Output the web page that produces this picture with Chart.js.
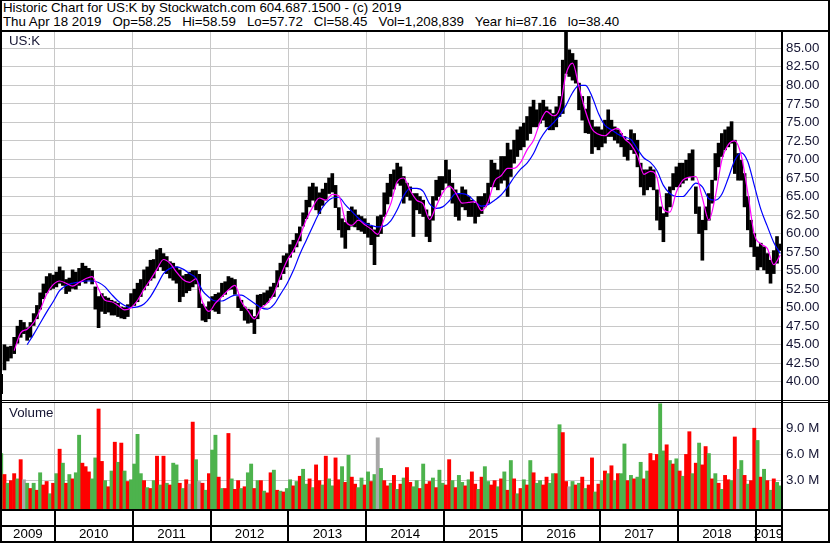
<!DOCTYPE html>
<html><head><meta charset="utf-8">
<script src="https://cdn.jsdelivr.net/npm/chart.js@4.4.1/dist/chart.umd.min.js"></script>
<style>
html,body{margin:0;padding:0;background:#fff;}
#wrap{position:relative;width:830px;height:543px;overflow:hidden;background:#fff;font-family:"Liberation Sans",Arial,sans-serif;color:#000;}
.hdr{position:absolute;left:3px;white-space:pre;font-size:13.3px;line-height:14px;color:#000;}
.lbl{position:absolute;white-space:pre;font-size:13.3px;line-height:14px;color:#141432;}
.ln{position:absolute;background:#000;}
canvas{position:absolute;}
</style></head><body>
<div id="wrap">
<canvas id="price" width="830" height="370" style="left:0;top:31px;width:830px;height:370px"></canvas>
<canvas id="vol" width="830" height="142" style="left:0;top:401px;width:830px;height:142px"></canvas>
<div class="hdr" style="top:1px">Historic Chart for US:K by Stockwatch.com 604.687.1500 - (c) 2019</div>
<div class="hdr" style="top:15px">Thu Apr 18 2019   Op=58.25   Hi=58.59   Lo=57.72   Cl=58.45   Vol=1,208,839   Year hi=87.16   lo=38.40</div>
<div class="lbl" style="left:9px;top:34px">US:K</div>
<div class="lbl" style="left:9px;top:406px">Volume</div>
<div class="ln" style="left:0;top:30px;width:830px;height:2px"></div>
<div class="ln" style="left:0;top:400px;width:830px;height:1px"></div>
<div class="ln" style="left:0;top:402px;width:830px;height:1px"></div>
<div class="ln" style="left:0;top:509px;width:830px;height:2px"></div>
<div class="ln" style="left:0;top:525px;width:782px;height:2px"></div>
<div class="ln" style="left:781px;top:31px;width:2px;height:512px"></div>
<div class="ln" style="left:0;top:0;width:830px;height:1px"></div>
<div class="ln" style="left:0;top:0;width:2px;height:543px"></div>
<div class="ln" style="left:828px;top:0;width:2px;height:543px"></div>
<div class="ln" style="left:0;top:541px;width:830px;height:2px"></div>
</div>
<script>
// Half-month periods, starting with the second half of April 2009 (k = 0)
const periodX = k => 2009 + (k + 7) / 24 + 1 / 48;

const priceHigh = [
 41.0,45.0,44.7,44.8,46.0,47.5,48.3,48.0,47.3,48.0,
 49.2,50.3,52.0,53.2,54.2,54.6,54.4,54.8,55.5,55.0,
 53.8,54.0,55.1,54.8,55.3,56.0,55.6,55.3,55.0,52.8,
 51.5,51.9,51.5,51.3,51.0,50.8,50.6,50.1,50.0,50.4,
 51.9,52.5,53.3,53.8,55.1,55.5,56.4,56.5,57.8,58.0,
 57.3,56.9,56.2,56.0,55.5,55.1,54.3,54.5,54.8,55.0,
 55.0,54.5,50.5,50.1,50.8,51.5,51.8,52.0,53.3,53.5,
 54.2,54.0,53.8,51.5,51.0,50.1,49.8,49.7,48.8,51.7,
 51.8,52.0,52.3,52.8,53.3,55.0,56.0,57.0,57.3,58.5,
 59.1,60.0,60.9,62.8,64.5,66.3,66.8,66.3,65.5,66.0,
 66.8,67.5,68.1,66.5,63.5,62.0,61.5,63.0,63.6,63.2,
 62.5,62.3,62.0,61.4,61.0,60.5,62.3,62.5,65.5,66.8,
 68.0,68.6,69.5,69.0,67.7,66.8,66.3,65.4,65.4,65.0,
 64.5,63.2,62.3,65.0,67.2,67.7,67.7,69.9,68.6,66.8,
 65.9,65.4,66.3,65.9,65.0,64.5,64.1,65.0,65.0,65.4,
 66.8,69.9,69.5,68.6,70.4,70.4,72.2,71.3,72.6,74.0,
 74.4,74.9,75.8,77.1,78.0,76.7,77.6,78.0,77.1,76.7,
 76.2,77.1,78.5,83.4,87.16,84.8,84.3,83.4,80.3,78.5,
 76.8,78.5,75.3,74.4,74.4,74.0,75.3,76.7,75.3,74.4,
 74.0,73.5,73.1,72.6,74.0,73.5,72.6,69.5,68.6,68.6,
 69.0,68.6,65.9,63.6,62.7,65.4,66.3,68.1,69.0,69.5,
 69.5,69.9,70.8,71.3,66.3,63.6,61.8,63.6,65.4,67.2,
 70.8,72.2,73.5,74.0,74.4,75.1,72.6,70.8,69.9,68.1,
 65.0,61.8,60.0,58.2,58.7,58.2,57.3,56.4,57.7,59.6,
 58.59
];
const priceLow = [
 38.4,41.6,42.8,43.2,43.8,45.2,46.0,46.5,45.6,46.0,
 47.6,48.5,49.8,51.2,52.0,52.4,52.6,52.8,53.3,53.0,
 51.9,52.2,52.6,52.5,53.0,53.5,53.3,53.7,53.2,49.8,
 47.3,49.5,49.2,49.4,49.0,49.0,48.8,48.6,48.5,48.8,
 50.1,50.3,50.8,51.5,52.4,53.0,53.7,54.0,55.0,55.5,
 55.0,54.6,54.0,53.7,53.3,50.8,51.5,52.0,52.3,52.8,
 53.2,50.0,48.3,48.1,48.5,49.7,49.5,49.2,51.5,51.8,
 52.4,52.5,51.8,50.0,49.6,48.3,47.9,48.0,46.5,48.5,
 50.1,50.4,50.7,51.3,51.5,52.8,53.8,54.6,55.5,56.8,
 57.5,58.2,59.0,61.0,62.0,63.6,64.5,63.2,62.7,63.8,
 64.5,65.4,65.6,63.5,60.5,59.5,58.0,60.5,61.0,60.9,
 60.5,60.3,60.0,59.5,58.5,55.8,59.6,60.0,62.3,64.0,
 65.0,66.0,66.8,66.5,64.1,65.0,64.5,59.6,63.2,62.7,
 62.3,59.6,58.9,61.8,64.5,65.0,65.9,66.8,66.3,64.1,
 62.3,61.8,63.6,63.2,62.3,62.3,61.4,62.3,62.7,63.6,
 64.1,66.3,66.3,65.9,66.8,67.2,65.0,67.7,69.5,70.4,
 71.3,71.7,72.6,73.5,74.4,74.4,74.9,75.3,74.4,74.0,
 74.0,74.4,75.8,76.2,81.6,81.2,80.7,80.3,76.7,75.3,
 73.6,73.5,70.8,71.7,71.3,71.7,72.2,73.1,73.1,72.6,
 72.2,71.7,70.4,69.9,71.3,70.8,69.0,66.3,65.2,65.9,
 66.3,65.9,61.8,60.5,58.9,62.3,63.6,65.9,66.3,66.3,
 66.8,67.2,67.7,67.2,62.7,60.0,56.4,60.5,61.8,64.1,
 67.2,69.0,70.4,71.3,71.7,72.2,68.1,67.2,67.2,63.6,
 60.5,58.2,56.9,55.1,55.5,55.1,54.6,53.3,54.6,56.0,
 57.72
];
// Moving averages, one value per month (every second half-month period)
const maFast = [
 null,null,44.2,46.6,47.1,48.0,49.7,51.8,53.1,53.6,
 53.3,52.9,53.4,53.9,54.2,52.5,51.0,50.8,50.3,49.7,
 50.0,51.0,52.5,53.8,55.2,56.5,56.0,54.8,53.8,53.4,
 53.9,50.8,49.5,50.6,51.5,52.4,53.0,50.8,49.6,48.5,
 49.9,50.6,51.9,54.2,56.3,57.7,59.6,61.9,63.6,64.8,
 64.5,65.3,65.1,61.8,61.1,61.8,61.2,60.6,59.9,62.0,
 64.0,67.0,67.5,65.8,64.5,64.0,61.9,63.7,65.5,66.4,
 65.5,64.1,64.2,64.3,63.1,64.3,67.1,67.8,68.8,68.8,
 69.6,71.3,72.6,75.0,76.5,75.9,76.8,81.5,83.0,79.8,
 76.5,74.1,73.4,73.2,73.9,74.2,72.8,72.0,70.5,68.0,
 68.4,67.6,63.3,62.9,65.6,67.2,67.6,67.7,64.8,61.8,
 65.0,69.9,72.0,72.5,70.5,65.5,59.9,58.6,58.0,55.8,
 57.1
];
const maSlow = [
 null,null,null,null,45.0,46.4,47.9,49.4,50.8,52.3,
 53.0,53.3,53.45,53.6,53.6,53.4,52.8,51.8,50.9,50.3,
 50.0,50.1,50.5,51.5,53.0,54.6,55.3,55.5,55.2,54.6,
 54.0,52.3,51.4,50.9,50.9,51.3,51.7,51.7,51.2,50.6,
 50.0,49.8,50.4,51.8,53.2,55.0,57.2,59.1,61.0,62.8,
 64.1,64.8,64.9,63.9,63.0,62.1,61.4,61.1,60.9,61.0,
 61.7,63.2,65.1,66.1,66.1,65.7,64.0,63.4,63.6,64.4,
 65.4,65.4,65.1,64.3,63.7,63.9,64.5,65.2,66.3,67.6,
 68.7,69.5,70.8,72.7,74.0,74.9,75.9,77.3,79.0,80.0,
 80.0,78.5,76.2,74.6,74.0,73.4,73.0,72.7,71.4,70.2,
 69.6,68.5,66.5,65.4,65.0,65.0,65.9,66.8,66.3,64.7,
 64.5,65.3,67.5,69.9,70.9,69.7,66.5,63.3,61.0,58.8,
 57.3
];
// Volume in millions per half-month period
const volume = [
 6.1,3.7,2.7,3.0,3.8,3.2,5.4,3.1,2.7,2.1,
 2.7,1.9,3.9,2.5,2.9,1.5,2.7,3.8,6.6,5.0,
 2.7,3.7,3.2,3.9,8.2,5.0,4.6,4.0,3.2,5.6,
 11.2,5.2,3.0,2.3,4.1,7.4,5.1,7.3,4.1,2.9,
 3.1,4.9,8.3,3.8,3.0,2.2,2.1,3.0,5.8,2.5,
 5.8,2.7,2.5,5.0,4.8,2.7,2.1,3.1,2.6,9.7,
 5.4,2.9,2.7,1.9,3.8,6.5,8.2,3.4,2.1,2.1,
 8.4,3.2,2.0,3.0,2.1,2.3,3.9,4.9,2.1,3.0,
 3.0,1.8,1.6,3.9,4.2,1.9,1.8,1.7,2.1,3.1,
 2.4,2.9,
 3.5,4.3,2.6,3.2,2.2,4.8,3.0,2.5,5.8,3.2,
 2.4,5.6,3.1,4.6,2.8,5.9,3.4,2.6,2.2,3.3,
 2.5,4.0,2.9,3.7,7.9,4.4,3.0,2.4,2.7,3.6,
 2.0,2.6,3.3,4.5,2.8,2.3,3.0,2.1,4.9,2.6,
 2.9,3.3,2.2,4.2,2.7,2.5,5.4,3.0,2.2,3.6,
 2.8,2.4,3.1,4.0,2.6,2.0,3.4,4.6,2.9,2.5,
 3.0,2.3,
 3.2,4.0,1.9,5.3,3.2,1.5,2.1,3.1,2.5,5.3,
 3.9,2.7,3.0,2.5,3.4,2.7,3.8,3.8,9.4,8.5,
 2.9,2.3,2.9,2.5,2.7,3.4,2.1,2.5,5.6,1.7,
 2.6,3.0,4.1,3.8,4.7,3.0,3.8,3.8,7.2,3.0,
 3.6,3.2,3.4,5.1,3.2,4.1,6.1,5.3,6.0,11.8,
 6.4,7.1,5.3,4.9,5.5,4.1,3.5,6.0,8.6,3.8,
 5.0,7.3,4.8,6.9,6.1,3.2,3.8,2.7,2.0,3.6,
 3.1,3.0,8.0,4.3,5.3,3.6,2.6,3.0,9.0,7.6,
 3.4,4.3,3.0,1.9,3.2,2.8,2.4
];
// G = up, R = down, N = unchanged
const volumeDir =
 "GRGRRGRNGR"+"GRGRRGRGRG"+"RGRGGRRRGG"+"RRGRGRGRGR"+"GGGGRGRGRG"+"RGRGGRGRNR"+"GNRGRGGRGR"+"RGRRGRGGRG"+"RGRRGRGRGG"+"RG"+
 "RGGRGRRGRG"+"GRRGRGRRGG"+"RGRGNGRRGR"+"GRGRRGGRGR"+"RGRGGRRGRG"+"GRGRRGRGGR"+"RG"+
 "RGRGRGRGRG"+"RGGRRGGRGR"+"RNGRGRGRRG"+"RGRGRGRGGR"+"GRGGRGRRRG"+"GRGRGRGRRG"+"RGRRGRGRGR"+"RGRNGRGRRG"+"RGRGRGG";

const years = [2009,2010,2011,2012,2013,2014,2015,2016,2017,2018,2019];
const yearLines = [2010,2011,2012,2013,2014,2015,2016,2017,2018,2019];
const priceTicks = [40,42.5,45,47.5,50,52.5,55,57.5,60,62.5,65,67.5,70,72.5,75,77.5,80,82.5,85];
const volumeTicks = [3,6,9];

const X_MIN = 2009.31, X_MAX = 2019.322;
const FONT = '"Liberation Sans", Arial, sans-serif';
const LABEL = '#141432';
const GRID = '#c8c8c8';
const dirColor = {G:'#4db34d', R:'#ff0000', N:'#a8a8a8'};

function xScale(){
  return {
    type:'linear', min:X_MIN, max:X_MAX, offset:false, bounds:'data',
    afterBuildTicks: s => { s.ticks = yearLines.map(v => ({value:v})); },
    ticks:{display:false},
    grid:{color:GRID, lineWidth:1, drawTicks:false, offset:false},
    border:{display:false},
    afterFit: s => { s.height = 0; s.paddingLeft = 0; s.paddingRight = 0; s.paddingTop = 0; s.paddingBottom = 0; }
  };
}
function yScale(min, max, ticks, fmt){
  return {
    position:'right', min:min, max:max,
    afterBuildTicks: s => { s.ticks = ticks.map(v => ({value:v})); },
    ticks:{callback:fmt, padding:5, color:LABEL, font:{family:FONT, size:13.3}},
    grid:{color:GRID, lineWidth:1, drawTicks:false},
    border:{display:false},
    afterFit: s => { s.width = 49; s.paddingTop = 0; s.paddingBottom = 0; s.paddingLeft = 0; s.paddingRight = 0; }
  };
}
const common = {
  responsive:false, animation:false, events:[],
  plugins:{legend:{display:false}, tooltip:{enabled:false}}
};

new Chart(document.getElementById('price'), {
  type:'bar',
  data:{datasets:[
    {type:'line', data: maFast.map((v,j)=>({x:periodX(2*j), y:v})), borderColor:'#ff00ff', borderWidth:1.2,
     pointRadius:0, cubicInterpolationMode:'monotone', order:1},
    {type:'line', data: maSlow.map((v,j)=>({x:periodX(2*j), y:v})), borderColor:'#0000ff', borderWidth:1.2,
     pointRadius:0, cubicInterpolationMode:'monotone', order:2},
    {type:'bar', data: priceHigh.map((h,k)=>({x:periodX(k), y:[priceLow[k], h]})), backgroundColor:'#000',
     borderWidth:0, barThickness:3, order:3}
  ]},
  options:Object.assign({}, common, {
    layout:{autoPadding:false, padding:{left:1, right:0, top:1, bottom:1}},
    scales:{
      x: xScale(),
      y: yScale(37.54, 87.2, priceTicks, v => v.toFixed(2))
    }
  })
});

const stripPlugin = {
  id:'strip',
  afterDraw(chart){
    const {ctx, chartArea} = chart;
    const xs = chart.scales.x;
    ctx.save();
    ctx.fillStyle = '#000';
    yearLines.forEach(v => {
      const px = Math.round(xs.getPixelForValue(v));
      ctx.fillRect(px - 1, 110, 2, 30);
    });
    ctx.font = '13.3px ' + FONT;
    ctx.textAlign = 'center';
    ctx.textBaseline = 'middle';
    years.forEach(y => {
      const a = Math.max(chartArea.left, xs.getPixelForValue(y));
      const b = Math.min(chartArea.right, xs.getPixelForValue(y + 1));
      ctx.fillText(String(y), (a + b) / 2, 133);
    });
    ctx.restore();
  }
};

new Chart(document.getElementById('vol'), {
  type:'bar',
  data:{datasets:[{
    data: volume.map((v,k)=>({x:periodX(k), y:v})),
    backgroundColor: volume.map((v,k)=>dirColor[volumeDir[k] || 'G']),
    borderWidth:0, barPercentage:1, categoryPercentage:1, base:-0.25
  }]},
  options:Object.assign({}, common, {
    layout:{autoPadding:false, padding:{left:1, right:0, top:1, bottom:34}},
    scales:{
      x: xScale(),
      y: yScale(-0.25, 12.0, volumeTicks, v => v.toFixed(1) + ' M')
    }
  }),
  plugins:[stripPlugin]
});
</script>
</body></html>
